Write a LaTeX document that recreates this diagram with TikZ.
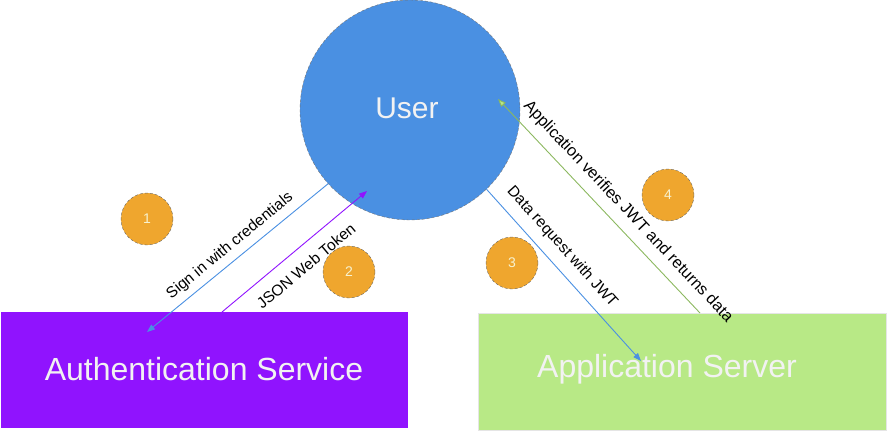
\documentclass[tikz,border=0pt]{standalone}
\usepackage{fontspec}
\setmainfont{Liberation Sans}
\usetikzlibrary{arrows.meta}
\definecolor{userblue}{HTML}{4A90E2}
\definecolor{authpurple}{HTML}{9013FE}
\definecolor{appgreen}{HTML}{B8E986}
\definecolor{linegreen}{HTML}{8CB860}
\definecolor{badgeorange}{HTML}{EFA62E}
\definecolor{badgetext}{HTML}{F7F2CF}
\definecolor{boxtext}{HTML}{F2F2F2}
\tikzset{
  boxlabel/.style={font=\fontsize{32}{38}\selectfont, text=boxtext},
  badge/.style={circle, fill=badgeorange, draw=black!60, densely dashed, line width=0.4pt,
    minimum size=52pt, inner sep=0pt, font=\fontsize{14}{16}\selectfont, text=badgetext},
  edgelabel/.style={font=\fontsize{15.5}{18}\selectfont, text=black, inner sep=0pt},
  conn/.style={line width=0.9pt, -{Triangle[length=8pt,width=6pt]}},
}
\begin{document}
\begin{tikzpicture}[x=1pt,y=-1pt]
\useasboundingbox (0,0) rectangle (887,431);
% boxes
\node[fill=authpurple, minimum width=407pt, minimum height=116pt, inner sep=0pt, anchor=north west] (auth) at (1,312) {};
\node[boxlabel] (authtext) at (204,369) {Authentication Service};
\node[fill=appgreen, draw=black!10, line width=0.6pt, minimum width=408pt, minimum height=117pt, inner sep=0pt, anchor=north west] (app) at (478,313) {};
\node[boxlabel] (apptext) at (667,369) {Application Server};
% user
\node[circle, fill=userblue, draw=black!55, densely dashed, line width=0.4pt, minimum size=220pt, inner sep=0pt] (user) at (410,110) {};
\node[font=\fontsize{30}{36}\selectfont, text=boxtext] (usertext) at (407,108) {User};
% coordinates
\coordinate (a1) at (user.222);
\coordinate (b1) at (147,332);
\coordinate (a2) at (222,312);
\coordinate (b2) at (367,191);
\coordinate (a3) at (user.314);
\coordinate (b3) at (641,361);
\coordinate (a4) at (700,313);
\coordinate (b4) at (498,99);
% connectors
\draw[conn, userblue] (a1) -- (b1);
\draw[conn, authpurple] (a2) -- (b2);
\draw[conn, userblue] (a3) -- (b3);
\draw[line width=0.9pt, linegreen, -{Triangle[length=8pt,width=6pt,fill=appgreen]}] (a4) -- (b4);
% labels
\node[edgelabel, rotate=39.5] (l1) at (230,246) {Sign in with credentials};
\node[edgelabel, rotate=40] (l2) at (306,266) {JSON Web Token};
\node[edgelabel, rotate=-48] (l3) at (562,247) {Data request with JWT};
\node[edgelabel, rotate=-46.7, font=\fontsize{16.3}{19}\selectfont] (l4) at (628,212) {Application verifies JWT and returns data};
% badges
\node[badge] (n1) at (147,219) {1};
\node[badge] (n2) at (349,272) {2};
\node[badge] (n3) at (512,263) {3};
\node[badge] (n4) at (668,195) {4};
\end{tikzpicture}
\end{document}
